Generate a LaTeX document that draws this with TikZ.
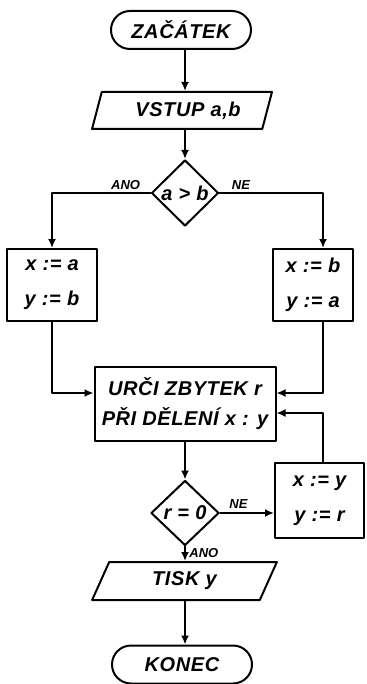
\documentclass[tikz,border=0pt]{standalone}
\usepackage{fontspec}
\setmainfont{Liberation Sans}
\newfontfamily\letterfont[LetterSpace=3]{Liberation Sans}
\usetikzlibrary{shapes.geometric,shapes.misc,arrows.meta}
\tikzset{
  every picture/.style={
    line join=round,
    line cap=round,
    >={Latex[length=4.5pt,width=4pt]},
  },
  block/.style={draw, line width=1pt, inner sep=0pt, align=center,
    font=\letterfont\bfseries\itshape\fontsize{10}{13}\selectfont},
  term/.style={block, rounded rectangle, minimum width=70pt, minimum height=19pt},
  io/.style={block, trapezium, trapezium left angle=68, trapezium right angle=112,
    trapezium stretches=true, minimum width=90pt, minimum height=18.5pt},
  decision/.style={block, diamond, minimum width=33.5pt, minimum height=33pt},
  assign/.style={block, rectangle},
  tag/.style={font=\bfseries\itshape\fontsize{6.5}{7}\selectfont, inner sep=0pt},
  flow/.style={->, line width=1pt},
}
\begin{document}
\begin{tikzpicture}[x=0.5pt,y=-0.5pt]
\useasboundingbox (0,0) rectangle (366,684);
% main column
\node[term] (start) at (181,30) {ZAČÁTEK};
\node[io] (vstup) at (182,110.5) {\hspace{6pt}VSTUP a,b};
\node[decision] (cmp) at (185,193) {a > b};
\node[assign, minimum width=45pt, minimum height=36pt] (setL) at (52,285) {x := a\\[4.5pt] y := b};
\node[assign, minimum width=40pt, minimum height=36pt] (setR) at (313,285) {x := b\\[4.5pt] y := a};
\node[assign, minimum width=90.5pt, minimum height=37pt] (rest) at (185,404) {URČI ZBYTEK r\\[2pt] PŘI DĚLENÍ x : y};
\node[decision, minimum width=34pt, minimum height=32.5pt] (zero) at (185,513) {r = 0};
\node[assign, minimum width=44.5pt, minimum height=37.5pt] (swap) at (319.5,500.5) {x := y\\[4.5pt] y := r};
\node[io, minimum width=92.5pt, minimum height=19pt] (tisk) at (184.5,581) {TISK y};
\node[term] (konec) at (182,664.5) {KONEC};
% labels
\node[tag, anchor=south east] (anoA) at ([xshift=-5pt,yshift=1.5pt]cmp.west) {ANO};
\node[tag, anchor=south west] (neA) at ([xshift=6pt,yshift=1.5pt]cmp.east) {NE};
\node[tag, anchor=south west] (neB) at ([xshift=4.5pt,yshift=2pt]zero.east) {NE};
\node[tag, anchor=north west] (anoB) at ([xshift=2pt,yshift=-1pt]zero.south) {ANO};
% connectors
\draw[flow] (start.south -| cmp) -- (vstup.north -| cmp);
\draw[flow] (vstup.south -| cmp) -- (cmp.north);
\draw[flow] (cmp.west) -| (setL.north);
\draw[flow] (cmp.east) -| ([xshift=5pt]setR.north);
\draw[flow] (setL.south) |- ([yshift=5.5pt]rest.west);
\draw[flow] ([xshift=5pt]setR.south) |- ([yshift=5.5pt]rest.east);
\draw[flow] (rest.south) -- (zero.north);
\draw[flow] (zero.east) -- (zero.east -| swap.west);
\draw[flow] ([xshift=1.75pt]swap.north) |- ([yshift=-4.5pt]rest.east);
\draw[flow] (zero.south) -- (tisk.north -| zero);
\draw[flow] (tisk.south -| zero) -- (konec.north -| zero);
\end{tikzpicture}
\end{document}
